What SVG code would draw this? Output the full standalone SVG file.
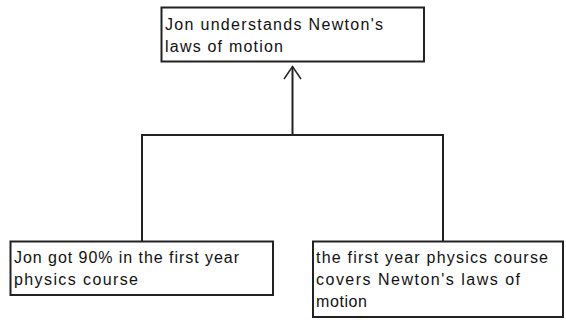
<svg xmlns="http://www.w3.org/2000/svg" width="566" height="320" viewBox="0 0 566 320">
<style>
.box{fill:#fff;stroke:#222;stroke-width:2}
.t{font-family:"Liberation Sans",Arial,sans-serif;font-size:16px;fill:#111}
.c{fill:none;stroke:#222;stroke-width:2}
.ah{fill:none;stroke:#222;stroke-width:1.5}
</style>
<rect width="566" height="320" fill="#fff"/>
<g id="connectors">
<polyline class="c" points="142,241 142,135 443,135 443,241"/>
<line class="c" x1="292.5" y1="135" x2="292.5" y2="66.5"/>
<polyline class="ah" points="284,79 292.5,66.5 301,79"/>
</g>
<g id="node-top">
<rect class="box" x="161.5" y="7.5" width="262.5" height="54"/>
<text class="t" x="165" y="30" textLength="218" lengthAdjust="spacing">Jon understands Newton's</text>
<text class="t" x="165" y="52" textLength="118" lengthAdjust="spacing">laws of motion</text>
</g>
<g id="node-left">
<rect class="box" x="10.5" y="241.5" width="262.5" height="53.5"/>
<text class="t" x="14" y="263" textLength="225" lengthAdjust="spacing">Jon got 90% in the first year</text>
<text class="t" x="14" y="285" textLength="124" lengthAdjust="spacing">physics course</text>
</g>
<g id="node-right">
<rect class="box" x="313" y="241.5" width="250" height="75.5"/>
<text class="t" x="316" y="263" textLength="232" lengthAdjust="spacing">the first year physics course</text>
<text class="t" x="316" y="285" textLength="204" lengthAdjust="spacing">covers Newton's laws of</text>
<text class="t" x="316" y="307" textLength="51" lengthAdjust="spacing">motion</text>
</g>
</svg>
